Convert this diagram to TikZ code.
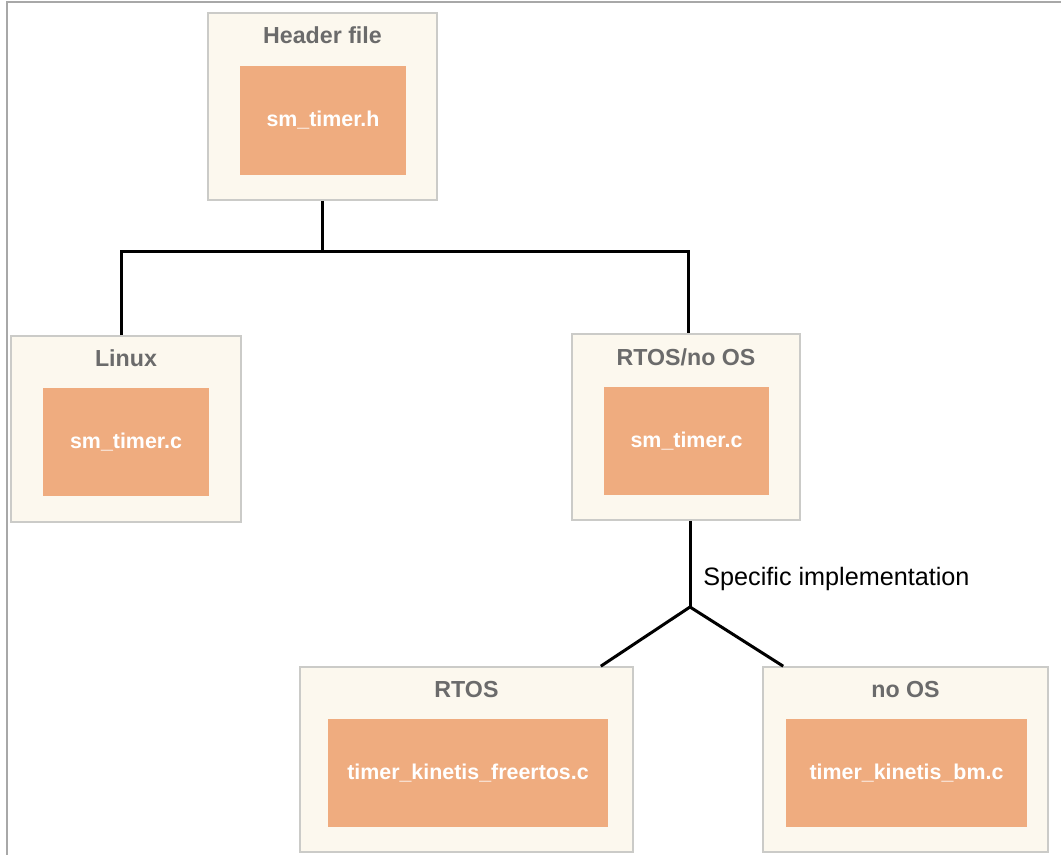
\documentclass[tikz,border=0pt]{standalone}
\usepackage{fontspec}
\setmainfont{Liberation Sans}

\definecolor{boxcream}{HTML}{FCF8EE}
\definecolor{boxedge}{HTML}{CBCBC8}
\definecolor{filesalmon}{HTML}{EFAC7F}
\definecolor{titlegray}{HTML}{6B6B6B}
\definecolor{frameline}{HTML}{A8A8A8}

\tikzset{
    group/.style={draw=boxedge, line width=0.8pt, fill=boxcream, inner sep=0pt},
    srcfile/.style={fill=filesalmon, text=white, inner sep=0pt,
        font=\bfseries\fontsize{10.7}{12}\selectfont},
    grouptitle/.style={text=titlegray, inner sep=0pt,
        font=\bfseries\fontsize{11.6}{13}\selectfont},
    link/.style={line width=1.5pt}
}

\begin{document}
\begin{tikzpicture}[x=0.5pt,y=-0.5pt]
            \useasboundingbox (0,0) rectangle (1061,855);
            \draw[frameline, line width=1pt] (7,855) -- (7,2) -- (1061,2);

            % outer groups
            \node[group, minimum width=114.5pt, minimum height=93.5pt] (hdr)      at (322.5,106.5) {};
            \node[group, minimum width=115pt,   minimum height=93pt]   (linux)    at (126,429)     {};
            \node[group, minimum width=114pt,   minimum height=93pt]   (rtosnoos) at (686,427)     {};
            \node[group, minimum width=166.5pt, minimum height=92.5pt] (rtos)     at (466.5,759.5) {};
            \node[group, minimum width=142.5pt, minimum height=92.5pt] (noos)     at (905.5,759.5) {};

            % titles
            \node[grouptitle] (hdrtitle)      at (322.5,35)  {Header file};
            \node[grouptitle] (linuxtitle)    at (126,358)   {Linux};
            \node[grouptitle] (rtosnoostitle) at (686,357)   {RTOS/no OS};
            \node[grouptitle] (rtostitle)     at (466.5,690) {RTOS};
            \node[grouptitle] (noostitle)     at (905.5,690) {no OS};

            % source files
            \node[srcfile, minimum width=83pt,    minimum height=54.5pt] (hfile)     at (323,120.5) {sm\_timer.h};
            \node[srcfile, minimum width=83pt,    minimum height=54pt]   (linuxc)    at (126,442)   {sm\_timer.c};
            \node[srcfile, minimum width=82.5pt,  minimum height=54pt]   (rtosnoosc) at (686.5,441) {sm\_timer.c};
            \node[srcfile, minimum width=140pt,   minimum height=54pt]   (freertosc) at (468,773)   {timer\_kinetis\_freertos.c};
            \node[srcfile, minimum width=120.5pt, minimum height=54pt]   (bmc)       at (906.5,773) {timer\_kinetis\_bm.c};

            % connectors
            \coordinate (bus)      at (0,252);
            \coordinate (fork)     at (690,607);
            \coordinate (linuxtop) at ([xshift=-2.5pt]linux.north);
            \coordinate (rtostop)  at ([xshift=1pt]rtosnoos.north);
            \draw[link] (hdr.south) -- (hdr.south |- bus);
            \draw[link] (linuxtop) |- (bus -| rtostop) -- (rtostop);
            \draw[link] (rtosnoos.south -| fork) -- (fork);
            \draw[link] ([xshift=-16.5pt]rtos.north east) -- (fork) -- ([xshift=10.5pt]noos.north west);

            \node[anchor=west, inner sep=0pt, font=\fontsize{12.6}{14}\selectfont] (impl) at (703,579) {Specific implementation};
        \end{tikzpicture}
\end{document}
